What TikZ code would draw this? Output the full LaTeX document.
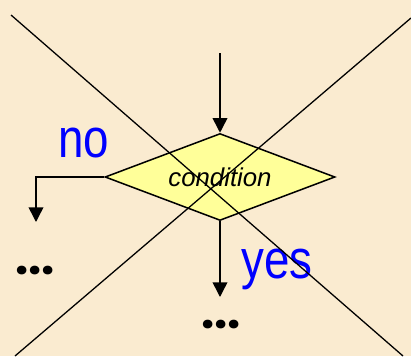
\documentclass[tikz,border=0pt]{standalone}
\usepackage{fontspec}
\setmainfont{Liberation Sans}
\newfontfamily\dotsfont{Poppins}
\usetikzlibrary{shapes.geometric,arrows.meta}
\definecolor{bgbeige}{RGB}{250,235,208}
\definecolor{condyellow}{RGB}{255,255,153}
\tikzset{
  flow/.style={line width=1.3pt,-{Triangle[width=12.5pt,length=12.5pt]}},
  answer/.style={text=blue,font=\fontsize{39}{39}\selectfont,anchor=base,inner sep=0pt},
  more/.style={font=\dotsfont\fontsize{40}{40}\selectfont\bfseries,anchor=base,inner sep=0pt}
}
\begin{document}
\begin{tikzpicture}[x=0.03cm,y=-0.03cm]
\fill[bgbeige] (0,0) rectangle (411,356);
\useasboundingbox (0,0) rectangle (411,356);

\node[diamond,draw,line width=1.3pt,fill=condyellow,aspect=2.64,inner sep=0pt,
  minimum width=6.9cm,minimum height=2.61cm,
  font=\fontsize{22}{22}\selectfont\itshape] (cond) at (220,177) {condition};

\coordinate (in) at (220,53);
\coordinate (noend) at (36,222);
\coordinate (yesend) at (220,297);
\draw[flow] (in) -- (cond.north);
\draw[flow] (cond.west) -| (noend);
\draw[flow] (cond.south) -- (yesend);

\node[answer] (no) at (83.5,157) {\scalebox{1}[1.2]{no}};
\node[answer] (yes) at (277,278) {\scalebox{1}[1.2]{yes}};
\node[more] (ldots) at (35,274.5) {...};
\node[more] (bdots) at (221,328.5) {...};

% crossed out
\draw[line width=1.1pt] (11,15) -- (403,356);
\draw[line width=1.1pt] (411,18) -- (15,356);
\end{tikzpicture}
\end{document}
